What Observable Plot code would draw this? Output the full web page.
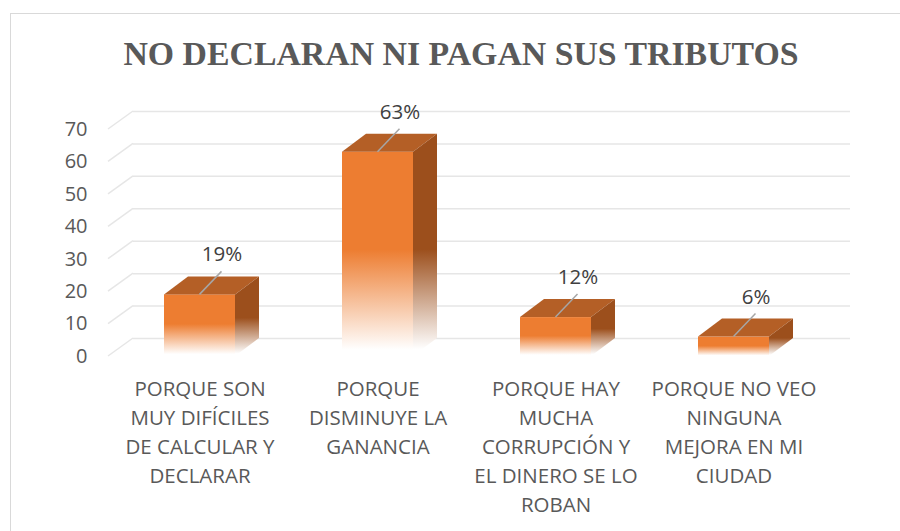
<!DOCTYPE html>
<html>
<head>
<meta charset="utf-8">
<script src="https://cdn.jsdelivr.net/npm/d3@7"></script>
<script src="https://cdn.jsdelivr.net/npm/@observablehq/plot@0.6"></script>
<style>
  html, body { margin: 0; padding: 0; background: #fff; }
  #wrap { position: relative; width: 900px; height: 531px; overflow: hidden; background: #fff; }
  #frame { position: absolute; left: 10px; top: 13px; width: 1000px; height: 1000px; border: 1.5px solid #d9d9d9; box-sizing: border-box; }
  #title { position: absolute; left: 0; width: 922px; top: 37px; text-align: center; font-family: "Liberation Serif", "DejaVu Serif", serif; font-weight: bold; font-size: 33.8px; line-height: 1; color: #595959; white-space: nowrap; }
  #chart { position: absolute; left: 0; top: 80px; }
</style>
</head>
<body>
<div id="wrap">
  <div id="frame"></div>
  <div id="title">NO DECLARAN NI PAGAN SUS TRIBUTOS</div>
  <div id="chart"></div>
</div>
<script>
const categories = [
  "PORQUE SON\nMUY DIFÍCILES\nDE CALCULAR Y\nDECLARAR",
  "PORQUE\nDISMINUYE LA\nGANANCIA",
  "PORQUE HAY\nMUCHA\nCORRUPCIÓN Y\nEL DINERO SE LO\nROBAN",
  "PORQUE NO VEO\nNINGUNA\nMEJORA EN MI\nCIUDAD"
];
const values = [19, 63, 12, 6];
const valueLabels = ["19%", "63%", "12%", "6%"];
const yTicks = [0, 10, 20, 30, 40, 50, 60, 70];

const data = categories.map((c, i) => ({cat: c, value: values[i], label: valueLabels[i]}));

const DX = 24, DY = 18;          // 3-D depth offset (pixels)
const FRONT = "#ED7D31", TOP = "#B45F26", SIDE = "#9C4F1C";
const GRID = "#e6e6e6";

const chart = Plot.plot({
  width: 900,
  height: 451,
  marginLeft: 108,
  marginRight: 75,
  marginTop: 49,
  marginBottom: 175,
  style: {fontFamily: "'Open Sans', sans-serif", fontSize: "20px", color: "#595959", background: "transparent", overflow: "visible"},
  x: {domain: categories, paddingInner: 0.6, paddingOuter: 0.306, align: 0.5, axis: null},
  y: {domain: [0, 70], ticks: yTicks, tickSize: 0, tickPadding: 21, label: null},
  marks: [
    Plot.ruleY(yTicks, {dx: DX + 1, dy: -DY, stroke: GRID, strokeWidth: 1.5}),
    Plot.barY(data, {x: "cat", y: "value", fill: "url(#frontGrad)"}),
    Plot.text(data, {x: "cat", frameAnchor: "bottom", text: "cat", lineAnchor: "top", dy: 19, fontSize: 20.5, lineHeight: 1.415, fill: "#595959"}),
    Plot.text(data, {x: "cat", y: "value", text: "label", dx: 22, dy: -40, fontSize: 20.5, fill: "#404040"})
  ]
});
document.getElementById("chart").appendChild(chart);

// 3-D faces built from the plot's own scales
const xs = chart.scale("x"), ys = chart.scale("y");
const bw = xs.bandwidth;
const svg = d3.select(chart);
const defs = svg.insert("defs", ":first-child");
function grad(id, color, start) {
  const g = defs.append("linearGradient").attr("id", id).attr("x1", 0).attr("y1", 0).attr("x2", 0).attr("y2", 1);
  g.append("stop").attr("offset", 0).attr("stop-color", color);
  g.append("stop").attr("offset", start).attr("stop-color", color);
  g.append("stop").attr("offset", 0.97).attr("stop-color", "#ffffff");
  g.append("stop").attr("offset", 1).attr("stop-color", "#ffffff");
}
grad("frontGrad", FRONT, 0.48);
grad("sideGrad", SIDE, 0.52);

const left = xs.range[0];
const gDiag = svg.append("g");
yTicks.forEach(v => {
  const y = ys.apply(v);
  gDiag.append("line").attr("x1", left).attr("y1", y)
    .attr("x2", left + DX + 1).attr("y2", y - DY)
    .attr("stroke", GRID).attr("stroke-width", 1.5);
});

const gFaces = svg.append("g");
const y0 = ys.apply(0);
data.forEach(d => {
  const x1 = xs.apply(d.cat), x2 = x1 + bw, yt = ys.apply(d.value);
  gFaces.append("polygon")
    .attr("points", [[x1, yt], [x2, yt], [x2 + DX, yt - DY], [x1 + DX, yt - DY]].join(" "))
    .attr("fill", TOP);
  gFaces.append("polygon")
    .attr("points", [[x2, yt], [x2 + DX, yt - DY], [x2 + DX, y0 - DY], [x2, y0]].join(" "))
    .attr("fill", "url(#sideGrad)");
  gFaces.append("line")
    .attr("x1", x1 + bw / 2).attr("y1", yt)
    .attr("x2", x1 + bw / 2 + 22).attr("y2", yt - 23)
    .attr("stroke", "#a6a6a6").attr("stroke-width", 1.5);
});
</script>
</body>
</html>
